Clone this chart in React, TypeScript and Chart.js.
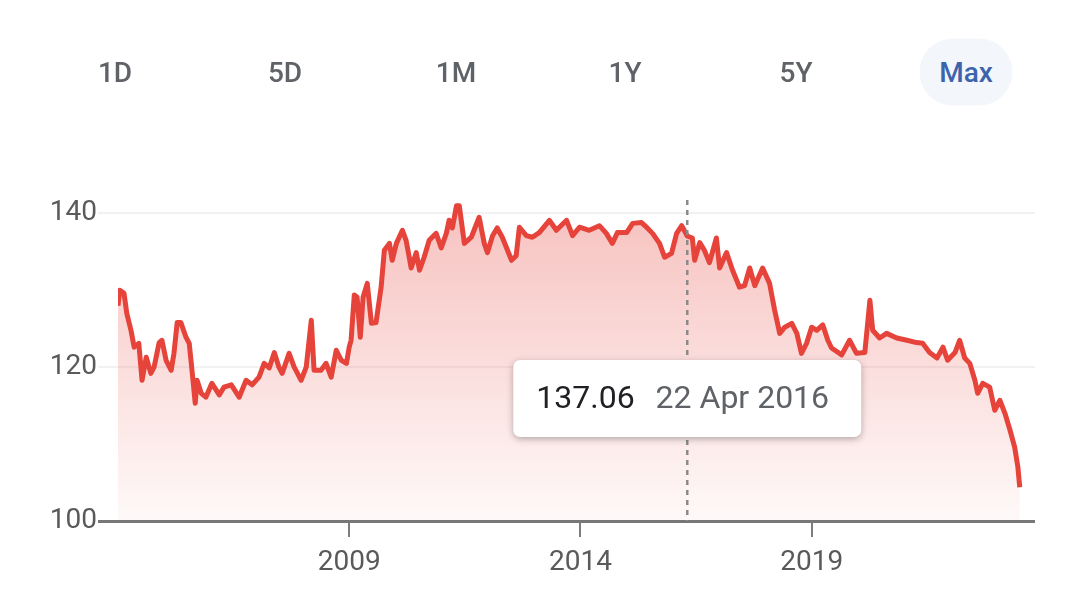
import { useEffect, useRef } from "react";
import { Chart, registerables } from "chart.js";

Chart.register(...registerables);

const rangeLabels = ["1D", "5D", "1M", "1Y", "5Y", "Max"];
const selectedRange = "Max";

// decimal years + closing values
const dates2004to2008 = [
  2004.0, 2004.04, 2004.13, 2004.19, 2004.28, 2004.35, 2004.45, 2004.52, 2004.61, 2004.71,
  2004.78, 2004.89, 2004.95, 2005.04, 2005.15, 2005.21, 2005.28, 2005.36, 2005.47, 2005.54,
  2005.6, 2005.67, 2005.71, 2005.8, 2005.9, 2006.03, 2006.19, 2006.29, 2006.45, 2006.62,
  2006.77, 2006.9, 2007.05, 2007.16, 2007.27, 2007.38, 2007.48, 2007.55, 2007.7, 2007.81,
  2007.96, 2008.07, 2008.18, 2008.24, 2008.39, 2008.5, 2008.61, 2008.72, 2008.83, 2008.94,
];
const prices2004to2008 = [
  128.0, 130.0, 129.6, 127.0, 124.8, 122.6, 123.1, 118.3, 121.3, 119.2,
  120.0, 123.2, 123.5, 120.9, 119.6, 121.8, 125.8, 125.8, 123.9, 123.1,
  119.6, 115.3, 118.3, 116.6, 116.1, 117.9, 116.4, 117.4, 117.7, 116.1,
  118.3, 117.7, 118.7, 120.5, 119.9, 121.9, 120.0, 119.2, 121.8, 120.0,
  118.3, 120.0, 126.1, 119.6, 119.6, 120.5, 118.7, 122.2, 120.9, 120.5,
];

const dates2009to2013 = [
  2009.0, 2009.04, 2009.11, 2009.17, 2009.24, 2009.3, 2009.39, 2009.48, 2009.58, 2009.69,
  2009.76, 2009.87, 2009.93, 2010.02, 2010.15, 2010.23, 2010.34, 2010.45, 2010.52, 2010.62,
  2010.73, 2010.88, 2010.99, 2011.1, 2011.16, 2011.23, 2011.32, 2011.38, 2011.49, 2011.64,
  2011.81, 2011.92, 2011.99, 2012.1, 2012.2, 2012.31, 2012.51, 2012.61, 2012.68, 2012.83,
  2012.96, 2013.11, 2013.33, 2013.48, 2013.7, 2013.83, 2013.98,
];
const prices2009to2013 = [
  122.6, 123.5, 129.4, 129.1, 123.9, 129.1, 130.9, 125.7, 125.8, 130.4,
  135.2, 136.1, 133.9, 136.1, 137.8, 136.5, 132.9, 134.9, 132.6, 134.3,
  136.5, 137.4, 135.5, 137.4, 139.1, 138.1, 141.0, 141.0, 136.1, 136.9,
  139.5, 136.1, 134.9, 137.1, 138.1, 136.9, 133.9, 134.5, 138.2, 137.1,
  136.9, 137.5, 139.1, 137.8, 139.1, 137.1, 138.2,
];

const dates2014to2023 = [
  2014.19, 2014.41, 2014.56, 2014.69, 2014.8, 2015.0, 2015.13, 2015.32, 2015.43, 2015.56,
  2015.71, 2015.82, 2015.97, 2016.08, 2016.19, 2016.31, 2016.42, 2016.47, 2016.58, 2016.68,
  2016.79, 2016.94, 2017.01, 2017.16, 2017.29, 2017.44, 2017.55, 2017.66, 2017.77, 2017.94,
  2018.09, 2018.2, 2018.31, 2018.42, 2018.57, 2018.68, 2018.78, 2018.89, 2019.0, 2019.11,
  2019.24, 2019.35, 2019.43, 2019.65, 2019.82, 2019.97, 2020.15, 2020.26, 2020.32, 2020.47,
  2020.62, 2020.84, 2021.06, 2021.27, 2021.4, 2021.55, 2021.71, 2021.84, 2021.94, 2022.1,
  2022.2, 2022.31, 2022.42, 2022.53, 2022.59, 2022.7, 2022.85, 2022.96, 2023.07, 2023.18,
  2023.29, 2023.39, 2023.46, 2023.5,
];
const prices2014to2023 = [
  137.8, 138.4, 137.4, 136.1, 137.5, 137.5, 138.7, 138.8, 138.2, 137.4,
  136.1, 134.3, 134.8, 137.4, 138.4, 137.06, 136.8, 133.9, 136.2, 135.2,
  133.6, 136.8, 132.9, 134.9, 132.6, 130.4, 130.6, 132.9, 130.6, 132.9,
  130.9, 127.4, 124.4, 125.2, 125.7, 124.4, 121.8, 123.1, 125.2, 124.8,
  125.5, 123.5, 122.5, 121.6, 123.5, 121.8, 121.9, 128.7, 124.8, 123.8,
  124.4, 123.8, 123.5, 123.2, 123.1, 121.9, 121.2, 122.6, 120.9, 121.9,
  123.5, 121.2, 120.5, 118.3, 116.6, 117.9, 117.4, 114.4, 115.7, 114.0,
  111.8, 109.6, 107.0, 104.4,
];

const yTicks = [100, 120, 140];
const xTickYears = [2009, 2014, 2019];

const hoverDate = 2016.31;
const hoverPrice = 137.06;
const hoverLabel = "22 Apr 2016";

const LINE_RED = "#e6433a";
const AXIS_TEXT = "#5a5a5a";
const FONT = "Roboto";

const hoverPlugin = {
  id: "hoverMarker",
  afterDatasetsDraw(chart: any) {
    const { ctx, chartArea, scales } = chart;
    const x = scales.x.getPixelForValue(hoverDate);
    ctx.save();

    // dashed crosshair
    ctx.strokeStyle = "#8a8a8a";
    ctx.lineWidth = 2.5;
    ctx.setLineDash([5, 5]);
    ctx.beginPath();
    ctx.moveTo(x, chartArea.top + 2);
    ctx.lineTo(x, chartArea.bottom);
    ctx.stroke();

    // tooltip card
    const w = 348;
    const h = 77;
    const left = x - w / 2;
    const top = chartArea.top + 162;
    ctx.setLineDash([]);
    ctx.shadowColor = "rgba(0,0,0,0.3)";
    ctx.shadowBlur = 7;
    ctx.shadowOffsetY = 2;
    ctx.fillStyle = "#ffffff";
    ctx.beginPath();
    ctx.roundRect(left, top, w, h, 7);
    ctx.fill();
    ctx.shadowColor = "transparent";

    ctx.font = `32px ${FONT}`;
    ctx.textBaseline = "middle";
    ctx.textAlign = "left";
    const valueText = hoverPrice.toFixed(2);
    ctx.fillStyle = "#202124";
    ctx.fillText(valueText, left + 23, top + h / 2 + 1);
    const vw = ctx.measureText(valueText).width;
    ctx.fillStyle = "#5f6368";
    ctx.fillText(hoverLabel, left + 23 + vw + 21, top + h / 2 + 1);
    ctx.restore();
  },
};

function PriceChart() {
  const canvasRef = useRef<HTMLCanvasElement>(null);
  const chartRef = useRef<Chart | null>(null);

  useEffect(() => {
    if (!canvasRef.current) return;
    if (chartRef.current) chartRef.current.destroy();

    const dates = [...dates2004to2008, ...dates2009to2013, ...dates2014to2023];
    const prices = [...prices2004to2008, ...prices2009to2013, ...prices2014to2023];
    const points = dates.map((d, i) => ({ x: d, y: prices[i] }));

    chartRef.current = new Chart(canvasRef.current, {
      type: "line",
      data: {
        datasets: [
          {
            data: points,
            borderColor: LINE_RED,
            borderWidth: 5,
            borderJoinStyle: "round",
            pointRadius: 0,
            tension: 0,
            fill: "start",
            backgroundColor: (c: any) => {
              const { chart } = c;
              const area = chart.chartArea;
              if (!area) return "rgba(229,65,58,0.15)";
              const g = chart.ctx.createLinearGradient(0, area.top, 0, area.bottom);
              g.addColorStop(0, "rgba(229,65,58,0.33)");
              g.addColorStop(1, "rgba(229,65,58,0.03)");
              return g;
            },
          },
        ],
      },
      options: {
        responsive: false,
        animation: false,
        layout: { padding: { top: 198, right: 45, left: 0, bottom: 0 } },
        plugins: {
          legend: { display: false },
          tooltip: { enabled: false },
        },
        events: [],
        scales: {
          x: {
            type: "linear",
            min: 2004,
            max: 2023.83,
            afterBuildTicks: (s: any) => {
              s.ticks = xTickYears.map((v) => ({ value: v }));
            },
            afterFit: (s: any) => {
              s.height = 78;
            },
            grid: {
              drawOnChartArea: false,
              drawTicks: true,
              tickLength: 16,
              color: "#7d7d7d",
              lineWidth: 2,
            },
            border: { display: false },
            ticks: {
              color: AXIS_TEXT,
              font: { family: FONT, size: 28 },
              padding: 9,
              maxRotation: 0,
              autoSkip: false,
              callback: (v: any) => String(v),
            },
          },
          y: {
            min: 100,
            max: 142,
            afterBuildTicks: (s: any) => {
              s.ticks = yTicks.map((v) => ({ value: v }));
            },
            afterFit: (s: any) => {
              s.width = 118;
            },
            grid: {
              color: (c: any) => (c.tick && c.tick.value === 100 ? "#777777" : "#f2f2f2"),
              lineWidth: (c: any) => (c.tick && c.tick.value === 100 ? 3 : 2),
              drawTicks: true,
              tickLength: 20,
            },
            border: { display: false },
            ticks: {
              color: AXIS_TEXT,
              font: { family: FONT, size: 28 },
              padding: 1,
            },
          },
        },
      },
      plugins: [hoverPlugin],
    } as any);

    return () => {
      if (chartRef.current) {
        chartRef.current.destroy();
        chartRef.current = null;
      }
    };
  }, []);

  return (
    <canvas
      ref={canvasRef}
      width={1080}
      height={599}
      style={{ position: "absolute", left: 0, top: 0 }}
    />
  );
}

export default function App() {
  const centers = [115, 285, 456, 625, 796, 966];
  return (
    <div
      style={{
        position: "absolute",
        left: 0,
        top: 0,
        width: 1080,
        height: 599,
        overflow: "hidden",
        background: "#ffffff",
        fontFamily: FONT,
      }}
    >
      <PriceChart />
      {rangeLabels.map((label, i) => {
        const active = label === selectedRange;
        return (
          <div
            key={label}
            style={{
              position: "absolute",
              left: centers[i],
              top: 72,
              transform: "translate(-50%, -50%)",
              width: active ? 93 : "auto",
              height: active ? 67 : "auto",
              borderRadius: 34,
              background: active ? "#f3f6fa" : "transparent",
              display: "flex",
              alignItems: "center",
              justifyContent: "center",
              fontSize: 28,
              fontWeight: 500,
              color: active ? "#3c64ad" : "#5f6368",
              whiteSpace: "nowrap",
            }}
          >
            {label}
          </div>
        );
      })}
    </div>
  );
}
